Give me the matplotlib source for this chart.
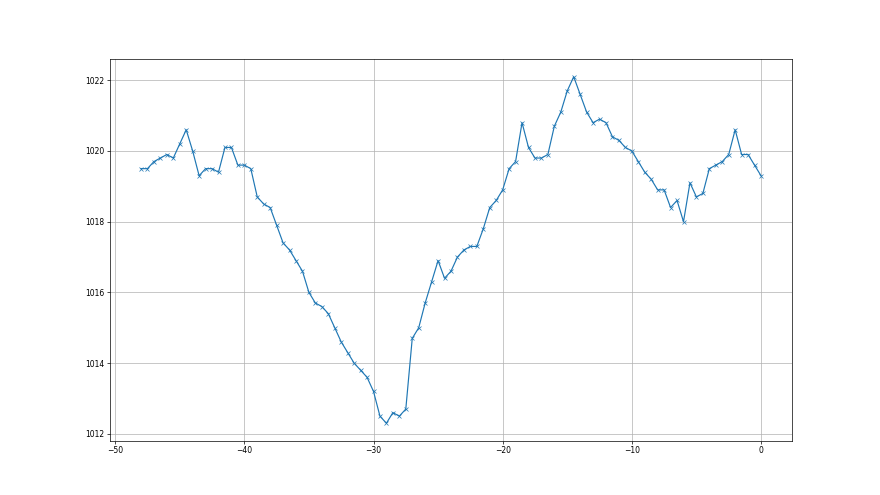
import numpy as np
import matplotlib
matplotlib.use('Agg')
import matplotlib.pyplot as plt

# hours relative to now, half-hour steps
hours = np.arange(-48, 0.5, 0.5)
pressure = [1019.5, 1019.5, 1019.7, 1019.8, 1019.9, 1019.8, 1020.2, 1020.6, 1020.0, 1019.3,
            1019.5, 1019.5, 1019.4, 1020.1, 1020.1, 1019.6, 1019.6, 1019.5, 1018.7, 1018.5,
            1018.4, 1017.9, 1017.4, 1017.2, 1016.9, 1016.6, 1016.0, 1015.7, 1015.6, 1015.4,
            1015.0, 1014.6, 1014.3, 1014.0, 1013.8, 1013.6, 1013.2, 1012.5, 1012.3, 1012.6,
            1012.5, 1012.7, 1014.7, 1015.0, 1015.7, 1016.3, 1016.9, 1016.4, 1016.6, 1017.0,
            1017.2, 1017.3, 1017.3, 1017.8, 1018.4, 1018.6, 1018.9, 1019.5, 1019.7, 1020.8,
            1020.1, 1019.8, 1019.8, 1019.9, 1020.7, 1021.1, 1021.7, 1022.1, 1021.6, 1021.1,
            1020.8, 1020.9, 1020.8, 1020.4, 1020.3, 1020.1, 1020.0, 1019.7, 1019.4, 1019.2,
            1018.9, 1018.9, 1018.4, 1018.6, 1018.0, 1019.1, 1018.7, 1018.8, 1019.5, 1019.6,
            1019.7, 1019.9, 1020.6, 1019.9, 1019.9, 1019.6, 1019.3]

plt.rcParams['font.size'] = 5.5
plt.rcParams['axes.linewidth'] = 0.5
plt.rcParams['xtick.major.width'] = 0.5
plt.rcParams['ytick.major.width'] = 0.5
plt.rcParams['xtick.major.size'] = 2
plt.rcParams['ytick.major.size'] = 2
plt.rcParams['xtick.major.pad'] = 2
plt.rcParams['ytick.major.pad'] = 2

fig = plt.figure(figsize=(8.8, 4.95), dpi=100)
ax = fig.add_subplot(111)
ax.plot(hours, pressure, marker='x', color='#1f77b4', linewidth=0.85, markersize=3.3, markeredgewidth=0.5)
ax.grid(True, color='#b0b0b0', linewidth=0.5)
plt.savefig('out.png', dpi=100)
